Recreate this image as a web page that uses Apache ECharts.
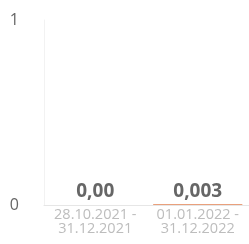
<!DOCTYPE html>
<html>
<head>
<meta charset="utf-8">
<script src="https://cdn.jsdelivr.net/npm/echarts@6/dist/echarts.min.js"></script>
<style>
html, body { margin: 0; padding: 0; background: #fff; }
#chart { width: 249px; height: 244px; }
</style>
</head>
<body>
<div id="chart"></div>
<script>
const periods = ['28.10.2021 -\n31.12.2021', '01.01.2022 -\n31.12.2022']
const values = [0, 0.003]
const valueLabels = ['0,00', '0,003']
const yTicks = [0, 1]

const chart = echarts.init(document.getElementById('chart'))

const option = {
    animation: false,
    grid: {
        left: 44,
        top: 20,
        bottom: 39,
        width: 212
    },
    xAxis: {
        type: 'category',
        data: periods,
        axisLine: { lineStyle: { color: '#e6e6e6' } },
        axisTick: { show: false },
        axisLabel: {
            interval: 0,
            hideOverlap: false,
            color: '#bdbdbd',
            fontSize: 14.5,
            lineHeight: 14,
            margin: 3,
            fontFamily: 'Open Sans'
        }
    },
    yAxis: {
        type: 'value',
        min: yTicks[0],
        max: yTicks[yTicks.length - 1],
        interval: 1,
        axisLine: { show: true, lineStyle: { color: '#f2f2f2' } },
        axisTick: { show: false },
        splitLine: { show: false },
        axisLabel: {
            color: '#666',
            fontSize: 16,
            margin: 25,
            fontFamily: 'Open Sans'
        }
    },
    series: [
        {
            type: 'bar',
            data: values,
            barWidth: '87%',
            barMinHeight: 1,
            itemStyle: {
                color: p => p.value > 0 ? '#e9a07c' : 'transparent'
            },
            label: {
                show: true,
                position: 'top',
                distance: 3,
                color: '#666',
                fontSize: 19,
                fontWeight: 'bold',
                fontFamily: 'Open Sans',
                formatter: p => valueLabels[p.dataIndex]
            }
        }
    ]
}

chart.setOption(option)
</script>
</body>
</html>
